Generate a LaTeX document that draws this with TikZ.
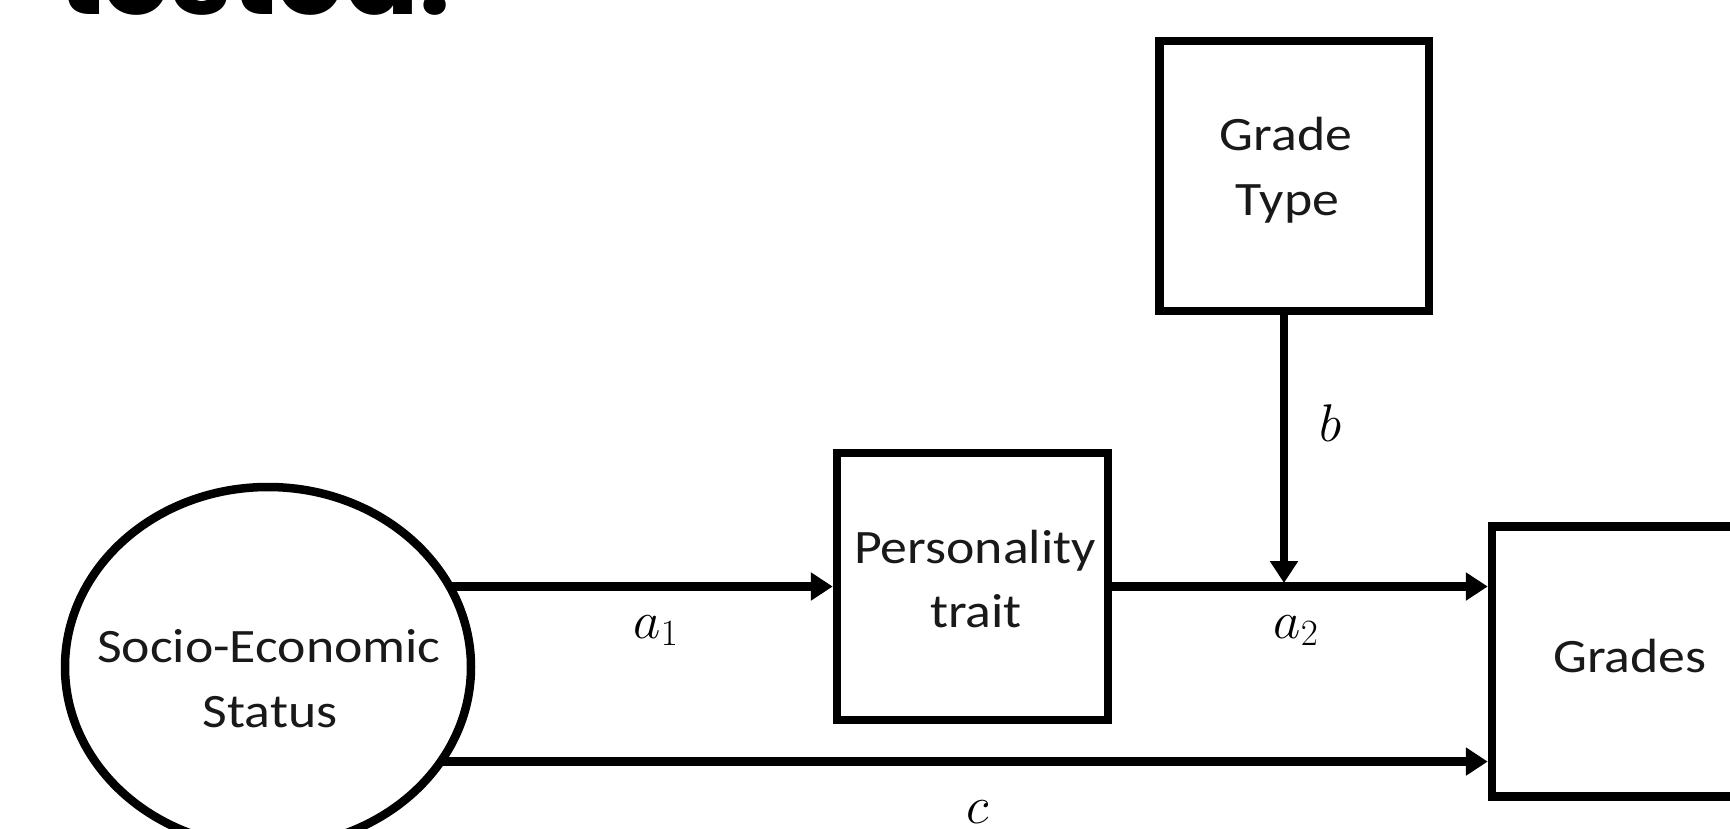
\RequirePackage{fix-cm}
\documentclass[tikz,border=0pt]{standalone}
\usepackage{fontspec}
\setmainfont{Carlito}[FakeStretch=1.12]
\newfontfamily\headfont{Poppins}
\usetikzlibrary{arrows.meta,shapes.geometric}
\tikzset{
  lw/.style={line width=8.5pt},
  boxnode/.style={draw, lw, rectangle, inner sep=0pt},
  sesnode/.style={draw, lw, ellipse, inner sep=0pt, minimum width=406pt, minimum height=360pt},
  txt/.style={font=\fontsize{48}{64}\selectfont, inner sep=0pt, anchor=base, text=black!90},
  lab/.style={font=\fontsize{53}{56}\selectfont, inner sep=0pt, anchor=base},
  arr/.style={lw, -{Triangle[length=22pt,width=27pt]}}
}
\begin{document}
\begin{tikzpicture}[x=1pt,y=-1pt]
\clip (0,0) rectangle (1730,828);
\fill[white] (0,0) rectangle (1730,828);
% heading, cut off at top
\node[inner sep=0pt, anchor=base west, font=\headfont\bfseries\fontsize{110}{110}\selectfont] (head) at (58,14) {tested.};
% nodes
\node[sesnode] (ses) at (268,667) {};
\node[boxnode, minimum width=271pt, minimum height=267pt] (pers) at (972.5,586.5) {};
\node[boxnode, minimum width=269.5pt, minimum height=270pt] (gtype) at (1294.25,176) {};
\node[boxnode, minimum width=270pt, minimum height=270pt] (grades) at (1627,661.5) {};
% texts
\node[txt] (tses1) at (269,662) {Socio-Economic};
\node[txt] (tses2) at (270,727) {Status};
\node[txt] (tpers1) at (975,563) {Personality};
\node[txt] (tpers2) at (976,627) {trait};
\node[txt] (tgt1) at (1286,150) {Grade};
\node[txt] (tgt2) at (1287.5,215) {Type};
\node[txt] (tgr) at (1630,672) {Grades};
% connectors
\coordinate (j) at (1284,583);
\draw[arr, shorten <=-6pt] (pers.west -| ses.23) -- (pers.west);
\draw[arr] (pers.east) -- (pers.east -| grades.west);
\draw[arr, shorten <=-6pt] (ses.-28) -- (ses.-28 -| grades.west);
\draw[arr] (gtype.south -| j) -- (j);
% labels
\node[lab] (la1) at (656,638) {$a_1$};
\node[lab] (la2) at (1296,638) {$a_2$};
\node[lab] (lb) at (1331,441) {$b$};
\node[lab] (lc) at (978,823) {$c$};
\end{tikzpicture}
\end{document}
